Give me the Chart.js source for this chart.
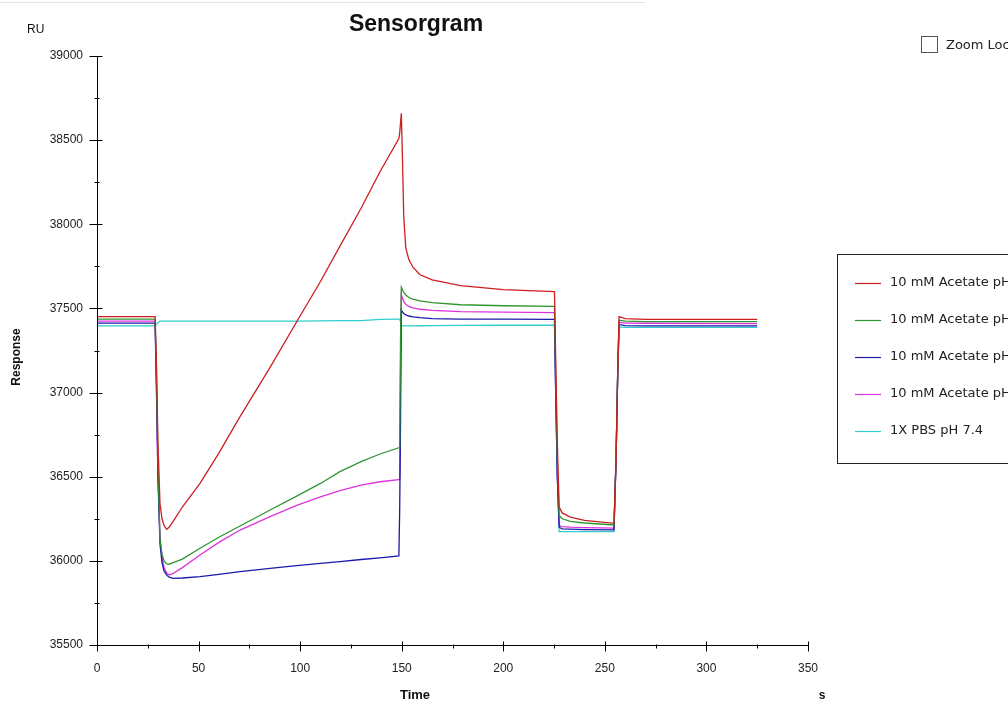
<!DOCTYPE html>
<html>
<head>
<meta charset="utf-8">
<script src="https://cdn.jsdelivr.net/npm/chart.js@4/dist/chart.umd.min.js"></script>
<style>
  html, body { margin: 0; padding: 0; background: #fff; overflow: hidden; }
  #wrap { width: 1008px; height: 702px; position: relative; }
</style>
</head>
<body>
<div id="wrap"><canvas id="myChart"></canvas></div>
<script>
// time axis (s), shared by all curves
const timeS = [0, 28.6, 29.3, 30, 31, 32, 33, 34.3, 35.5, 37.5, 42, 50.7, 60, 70.4, 85.2, 98.3, 110, 119.6, 130, 139.3,
  148.6, 149.0, 149.4, 149.8, 150.4, 151, 152, 153.5, 155.5, 159, 165, 179, 200, 225.2, 225.8, 226.6, 227.5, 229, 233, 240,
  254.5, 255.5, 256.3, 257, 260, 270, 325];

// response (RU)
const acetate40 = [37451, 37451, 37150, 36700, 36342, 36250, 36210, 36188, 36200, 36235, 36320, 36461, 36640, 36857, 37150, 37421, 37660, 37870, 38095, 38312,
  38510, 38541, 38600, 38659, 38372, 38045, 37860, 37790, 37745, 37700, 37670, 37635, 37612, 37600, 37200, 36700, 36320, 36285, 36260, 36240,
  36223, 36600, 37100, 37451, 37440, 37435, 37435];
const acetate45 = [37437, 37437, 37100, 36600, 36124, 36040, 36000, 35982, 35980, 35990, 36010, 36075, 36140, 36207, 36302, 36385, 36460, 36530, 36590, 36635,
  36672, 36678, 37300, 37626, 37610, 37595, 37580, 37565, 37555, 37545, 37535, 37522, 37516, 37512, 37100, 36600, 36270, 36250, 36235, 36225,
  36213, 36600, 37100, 37430, 37425, 37422, 37421];
const acetate50 = [37413, 37413, 37000, 36500, 36100, 35990, 35940, 35915, 35903, 35896, 35898, 35906, 35920, 35936, 35955, 35972, 35985, 35995, 36008, 36018,
  36029, 36300, 36800, 37491, 37480, 37470, 37462, 37455, 37450, 37445, 37440, 37437, 37436, 37435, 37000, 36500, 36200, 36190, 36188, 36186,
  36184, 36600, 37100, 37405, 37398, 37396, 37396];
const acetate55 = [37425, 37425, 37000, 36500, 36150, 36020, 35960, 35928, 35916, 35925, 35960, 36035, 36110, 36183, 36263, 36330, 36380, 36417, 36450, 36470,
  36482, 36485, 37100, 37580, 37560, 37540, 37525, 37512, 37503, 37495, 37488, 37481, 37478, 37475, 37000, 36500, 36210, 36203, 36200, 36198,
  36194, 36600, 37100, 37418, 37413, 37412, 37410];
const pbs74 = [37396, 37396, 37405, 37415, 37425, 37425, 37425, 37425, 37425, 37425, 37425, 37425, 37425, 37425, 37425, 37425, 37426, 37427, 37428, 37435,
  37437, 37437, 37420, 37398, 37396, 37396, 37396, 37396, 37396, 37397, 37398, 37399, 37400, 37400, 37000, 36500, 36174, 36174, 36174, 36174,
  36174, 36600, 37100, 37390, 37388, 37388, 37388];

const seriesLabels = ['10 mM Acetate pH 4.0', '10 mM Acetate pH 4.5', '10 mM Acetate pH 5.0', '10 mM Acetate pH 5.5', '1X PBS pH 7.4'];
const seriesColors = ['#CC1F1F', '#2E962E', '#1A1AAA', '#DD33DD', '#33CCCC'];
const seriesValues = [acetate40, acetate45, acetate50, acetate55, pbs74];

const xTicks = [0, 50, 100, 150, 200, 250, 300, 350];
const yTicks = [35500, 36000, 36500, 37000, 37500, 38000, 38500, 39000];

const FONT = "'Liberation Sans', Arial, sans-serif";
const WIDE_FONT = "'DejaVu Sans', sans-serif";

// axes with crossing ticks, titles, legend box, checkbox
const framePlugin = {
  id: 'frame',
  afterDraw(chart) {
    const { ctx, chartArea: a, scales: { x, y } } = chart;
    ctx.save();

    // faint screenshot edge at the top
    ctx.strokeStyle = '#e2e2e2';
    ctx.beginPath();
    ctx.moveTo(0, 2.5); ctx.lineTo(645, 2.5);
    ctx.stroke();

    ctx.strokeStyle = '#000';
    ctx.lineWidth = 1;
    const ax = Math.round(a.left) + 0.5;
    const ay = Math.round(a.bottom) + 0.5;
    ctx.beginPath();
    ctx.moveTo(ax, a.top); ctx.lineTo(ax, ay); ctx.lineTo(a.right, ay);
    yTicks.forEach((v, i) => {
      const py = Math.round(y.getPixelForValue(v)) + 0.5;
      ctx.moveTo(ax - 8, py); ctx.lineTo(ax + 5, py);
      if (i < yTicks.length - 1) {
        const my = Math.round(y.getPixelForValue((v + yTicks[i + 1]) / 2)) + 0.5;
        ctx.moveTo(ax - 3, my); ctx.lineTo(ax + 2, my);
      }
    });
    xTicks.forEach((v, i) => {
      const px = Math.round(x.getPixelForValue(v)) + 0.5;
      ctx.moveTo(px, ay - 4); ctx.lineTo(px, ay + 6);
      if (i < xTicks.length - 1) {
        const mx = Math.round(x.getPixelForValue((v + xTicks[i + 1]) / 2)) + 0.5;
        ctx.moveTo(mx, ay - 1); ctx.lineTo(mx, ay + 3);
      }
    });
    ctx.stroke();

    // texts
    ctx.fillStyle = '#111';
    ctx.textBaseline = 'middle';
    ctx.textAlign = 'center';
    ctx.font = 'bold 23px ' + FONT;
    ctx.fillText('Sensorgram', 416, 25);
    ctx.font = 'bold 13px ' + FONT;
    ctx.fillText('Time', 415, 695);
    ctx.font = 'bold 12px ' + FONT;
    ctx.fillText('s', 822, 696);
    ctx.save();
    ctx.translate(17, 357);
    ctx.rotate(-Math.PI / 2);
    ctx.fillText('Response', 0, 0);
    ctx.restore();
    ctx.textAlign = 'left';
    ctx.font = '12px ' + FONT;
    ctx.fillText('RU', 27, 30);

    // zoom lock checkbox
    ctx.strokeStyle = '#555';
    ctx.strokeRect(921.5, 36.5, 16, 16);
    ctx.fillStyle = '#222';
    ctx.font = '13px ' + WIDE_FONT;
    ctx.fillText('Zoom Lock', 946, 46);

    // legend
    ctx.strokeStyle = '#222';
    ctx.strokeRect(837.5, 254.5, 220, 209);
    chart.data.datasets.forEach((ds, i) => {
      const ly = 283 + i * 37;
      ctx.strokeStyle = ds.borderColor;
      ctx.lineWidth = 1.2;
      ctx.beginPath();
      ctx.moveTo(855, ly + 0.5); ctx.lineTo(881, ly + 0.5);
      ctx.stroke();
      ctx.fillStyle = '#222';
      ctx.fillText(ds.label, 890, ly);
    });
    ctx.restore();
  }
};

const chartCanvas = document.getElementById('myChart');
new Chart(chartCanvas, {
  type: 'line',
  data: {
    datasets: seriesValues.map((vals, i) => ({
      label: seriesLabels[i],
      data: timeS.map((t, j) => ({ x: t, y: vals[j] })),
      borderColor: seriesColors[i],
      borderWidth: 1.3,
      pointRadius: 0,
      tension: 0,
      fill: false,
    }))
  },
  options: {
    responsive: true,
    maintainAspectRatio: false,
    animation: false,
    devicePixelRatio: 1,
    layout: { padding: { top: 56, right: 200, left: 0, bottom: 0 } },
    plugins: {
      legend: { display: false },
      title: { display: false },
      tooltip: { enabled: false }
    },
    scales: {
      x: {
        type: 'linear',
        min: 0,
        max: 350,
        grid: { display: false, drawTicks: false },
        border: { display: false },
        ticks: {
          padding: 16, color: '#222', font: { family: FONT, size: 12 }, maxRotation: 0, autoSkip: false,
          callback: v => String(v)
        },
        afterBuildTicks: s => { s.ticks = xTicks.map(v => ({ value: v })); },
        afterFit: s => { s.height = 57; }
      },
      y: {
        min: 35500,
        max: 39000,
        grid: { display: false, drawTicks: false },
        border: { display: false },
        ticks: {
          padding: 14, color: '#222', font: { family: FONT, size: 12 }, autoSkip: false,
          callback: v => String(v)
        },
        afterBuildTicks: s => { s.ticks = yTicks.map(v => ({ value: v })); },
        afterFit: s => { s.width = 97; }
      }
    }
  },
  plugins: [framePlugin]
});
</script>
</body>
</html>
